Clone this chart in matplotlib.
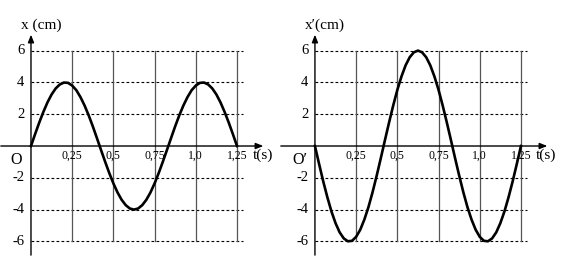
import numpy as np
import matplotlib
matplotlib.use("Agg")
import matplotlib.pyplot as plt

plt.rcParams['font.family'] = ['Liberation Serif', 'DejaVu Serif']

# 时间 (s), 每 0.025 s 读一个点
t = [i * 0.025 for i in range(51)]

# 左图 x (cm)
x = [0, 0.75, 1.47, 2.14, 2.74, 3.24, 3.62, 3.87, 3.99, 3.97,
     3.80, 3.51, 3.08, 2.55, 1.93, 1.24, 0.50, -0.25, -0.99, -1.70,
     -2.35, -2.92, -3.38, -3.72, -3.93, -4.00, -3.93, -3.72, -3.38, -2.92,
     -2.35, -1.70, -0.99, -0.25, 0.50, 1.24, 1.93, 2.55, 3.08, 3.51,
     3.80, 3.97, 3.99, 3.87, 3.62, 3.24, 2.74, 2.14, 1.47, 0.75, 0]

# 右图 x' (cm)
xp = [0, -1.12, -2.21, -3.21, -4.11, -4.85, -5.43, -5.81, -5.99, -5.96,
      -5.71, -5.26, -4.62, -3.83, -2.89, -1.85, -0.75, 0.38, 1.49, 2.55,
      3.53, 4.37, 5.07, 5.58, 5.89, 6.00, 5.89, 5.58, 5.07, 4.37,
      3.53, 2.55, 1.49, 0.38, -0.75, -1.85, -2.89, -3.83, -4.62, -5.26,
      -5.71, -5.96, -5.99, -5.81, -5.43, -4.85, -4.11, -3.21, -2.21, -1.12, 0]

y_ticks = [6, 4, 2, -2, -4, -6]
t_ticks = [0.25, 0.5, 0.75, 1.0, 1.25]
t_labels = ['0,25', '0,5', '0,75', '1,0', '1,25']


def draw_panel(ax, tt, yy, ylabel, origin, xlim, ts_pos):
    ax.set_xlim(*xlim)
    ax.set_ylim(-7.67, 9.18)
    ax.axis('off')

    # 水平虚线
    for v in y_ticks:
        ax.plot([0, 1.286], [v, v], color='k', lw=0.8, ls=(0, (2.5, 2)))
        ax.text(-0.04, v, str(v), ha='right', va='center', fontsize=10.5)

    # 竖直网格线
    for tk, lab in zip(t_ticks, t_labels):
        ax.plot([tk, tk], [-6, 6], color='#555555', lw=0.9)
        ax.text(tk, -0.6, lab, ha='center', va='center', fontsize=8.5)

    # 坐标轴箭头
    arrow = dict(arrowstyle='-|>,head_length=0.45,head_width=0.18',
                 lw=1.0, color='k', shrinkA=0, shrinkB=0)
    ax.annotate('', xy=(1.41, 0), xytext=(xlim[0] + 0.005, 0), arrowprops=arrow)
    ax.annotate('', xy=(0, 7.0), xytext=(0, -6.86), arrowprops=arrow)

    ax.text(ts_pos, -0.6, 't(s)', ha='left', va='center', fontsize=11)
    ax.text(-0.09, -0.85, origin, ha='center', va='center', fontsize=11.5)
    ax.text(0.06, 7.6, ylabel, ha='center', va='center', fontsize=11)

    ax.plot(tt, yy, color='k', lw=1.9)


fig = plt.figure(figsize=(5.61, 2.68), dpi=100)
ax1 = fig.add_axes([0, 0, 280 / 561, 1])
ax2 = fig.add_axes([280 / 561, 0, 281 / 561, 1])

draw_panel(ax1, t, x, 'x (cm)', 'O', (-0.188, 1.511), 1.345)
draw_panel(ax2, t, xp, 'x\u2032(cm)', 'O\u2032', (-0.212, 1.493), 1.34)

fig.savefig('out.png', dpi=100)
